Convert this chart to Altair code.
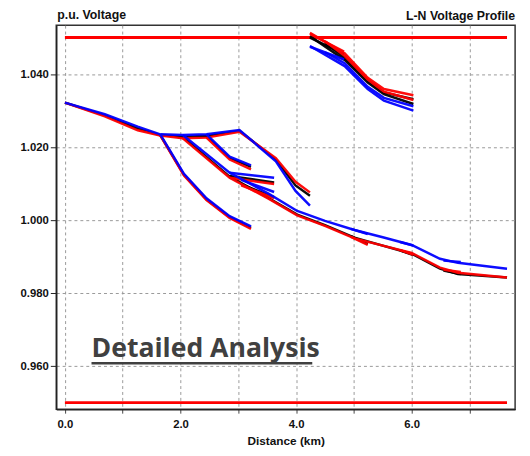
import altair as alt
import pandas as pd

# ---- data (distance km, p.u. voltage per phase) ----
trunk_x = [0.0, 0.69, 1.26, 1.65]
trunk_red = [1.0322, 1.0284, 1.0246, 1.0232]
trunk_black = [1.0322, 1.0287, 1.0251, 1.0233]
trunk_blue = [1.0322, 1.0290, 1.0256, 1.0235]

upper_x = [1.65, 2.04, 2.45, 3.02, 3.65, 3.99, 4.24]
upper_red = [1.0232, 1.0224, 1.0226, 1.0242, 1.0170, 1.0105, 1.0076]
upper_black = [1.0233, 1.0228, 1.0231, 1.0245, 1.0166, 1.0095, 1.0067]
upper_blue = [1.0235, 1.0233, 1.0235, 1.0247, 1.0161, 1.0080, 1.0040]

steep_x = [1.65, 2.06, 2.45, 2.85, 3.22]
steep_red = [1.0232, 1.0122, 1.0055, 1.0006, 0.9976]
steep_black = [1.0233, 1.0124, 1.0057, 1.0008, 0.9979]
steep_blue = [1.0235, 1.0127, 1.0060, 1.0011, 0.9983]

b4_x = [2.45, 2.85, 3.22]
b4_red = [1.0226, 1.0166, 1.0139]
b4_black = [1.0231, 1.0170, 1.0146]
b4_blue = [1.0235, 1.0174, 1.0150]

main_x = [2.04, 2.85, 3.53, 4.02, 4.5, 5.01, 5.5, 6.0, 6.49, 6.8, 7.65]
main_red = [1.0224, 1.0116, 1.0058, 1.0013, 0.9984, 0.9950, 0.9930, 0.9910, 0.9870, 0.9856, 0.9843]
main_black = [1.0228, 1.0119, 1.0060, 1.0015, 0.9986, 0.9952, 0.9930, 0.9908, 0.9867, 0.9852, 0.9843]
main_blue = [1.0233, 1.0130, 1.0072, 1.0025, 0.9998, 0.9973, 0.9953, 0.9932, 0.9894, 0.9883, 0.9867]

s1_x = [2.85, 3.62]
s1_red = [1.0116, 1.0099]
s1_black = [1.0121, 1.0103]
s1_blue = [1.0130, 1.0116]

s2_x = [3.05, 3.62]
s2_red = [1.0095, 1.0060]
s2_black = [1.0098, 1.0063]
s2_blue = [1.0110, 1.0077]

l1_x = [4.95, 5.24]
l1_red = [0.9954, 0.9932]
l1_black = [0.9956, 0.9934]
l1_blue = [0.9976, 0.9962]

l2_x = [5.8, 6.03]
l2_red = [0.9918, 0.9905]
l2_black = [0.9917, 0.9904]
l2_blue = [0.9940, 0.9930]

l3_x = [6.55, 6.85]
l3_red = [0.9864, 0.9858]
l3_black = [0.9862, 0.9852]
l3_blue = [0.9889, 0.9885]

ur1_x = [4.24, 4.84, 5.24, 5.52, 6.03]
ur1_red = [1.0513, 1.0457, 1.0390, 1.0359, 1.0342]
ur1_black = [1.0504, 1.0439, 1.0377, 1.0345, 1.0318]
ur1_blue = [1.0477, 1.0422, 1.0359, 1.0327, 1.0300]

ur2_x = [4.5, 4.84, 5.24, 5.52, 6.03]
ur2_red = [1.0490, 1.0450, 1.0385, 1.0352, 1.0329]
ur2_black = [1.0485, 1.0445, 1.0382, 1.0350, 1.0331]
ur2_blue = [1.0460, 1.0430, 1.0365, 1.0335, 1.0312]

ur3_x = [4.24, 4.83]
ur3_red = [1.0510, 1.0462]
ur3_black = [1.0500, 1.0455]
ur3_blue = [1.0475, 1.0440]

limit_x = [0.0, 7.65]
limit_high = 1.05
limit_low = 0.95

x_ticks = [i * 0.5 for i in range(16)]
y_ticks = [0.96, 0.98, 1.00, 1.02, 1.04]

branches = [
    ("trunk", trunk_x, trunk_red, trunk_black, trunk_blue),
    ("upper", upper_x, upper_red, upper_black, upper_blue),
    ("steep", steep_x, steep_red, steep_black, steep_blue),
    ("b4", b4_x, b4_red, b4_black, b4_blue),
    ("main", main_x, main_red, main_black, main_blue),
    ("s1", s1_x, s1_red, s1_black, s1_blue),
    ("s2", s2_x, s2_red, s2_black, s2_blue),
    ("l1", l1_x, l1_red, l1_black, l1_blue),
    ("l2", l2_x, l2_red, l2_black, l2_blue),
    ("l3", l3_x, l3_red, l3_black, l3_blue),
    ("ur1", ur1_x, ur1_red, ur1_black, ur1_blue),
    ("ur2", ur2_x, ur2_red, ur2_black, ur2_blue),
    ("ur3", ur3_x, ur3_red, ur3_black, ur3_blue),
]

rows = []
for name, xs, reds, blacks, blues in branches:
    for phase, vs in (("black", blacks), ("red", reds), ("blue", blues)):
        for i, (x, v) in enumerate(zip(xs, vs)):
            rows.append({"branch": name, "phase": phase, "i": i, "x": x, "v": v})
df = pd.DataFrame(rows)

lim_rows = []
for name, val in (("high", limit_high), ("low", limit_low)):
    for i, x in enumerate(limit_x):
        lim_rows.append({"branch": name, "i": i, "x": x, "v": val})
lim_df = pd.DataFrame(lim_rows)

FONT = "Liberation Sans"

x_enc = alt.X(
    "x:Q",
    scale=alt.Scale(domain=[-0.15, 7.79], nice=False, zero=False),
    axis=alt.Axis(
        values=x_ticks,
        labelExpr="datum.value % 2 === 0 ? format(datum.value, '.1f') : ''",
        title="Distance (km)",
        grid=True,
        gridDash=[3, 3],
        gridColor="#999999",
        gridWidth=1,
        tickSize=4,
        tickColor="#444444",
        domainColor="#222222",
        domainWidth=1.5,
        labelFont=FONT,
        labelFontSize=11.5,
        labelFontWeight="bold",
        labelColor="#111111",
        labelPadding=6,
        titleFont=FONT,
        titleFontSize=12,
        titleFontWeight="bold",
        titleColor="#111111",
        titlePadding=5,
    ),
)
y_enc = alt.Y(
    "v:Q",
    scale=alt.Scale(domain=[0.9482, 1.0534], nice=False, zero=False),
    axis=alt.Axis(
        values=y_ticks,
        format=".3f",
        title=None,
        grid=True,
        gridDash=[3, 3],
        gridColor="#999999",
        gridWidth=1,
        tickSize=6,
        tickColor="#222222",
        domainColor="#222222",
        domainWidth=1.5,
        labelFont=FONT,
        labelFontSize=11.5,
        labelFontWeight="bold",
        labelColor="#111111",
        labelPadding=2,
    ),
)

limits = alt.Chart(lim_df).mark_line(color="#ff0000", strokeWidth=3).encode(
    x=x_enc, y=y_enc, detail="branch:N", order="i:Q"
)

colors = {"black": "#000000", "red": "#ff0000", "blue": "#0000ff"}
phase_layers = []
for phase in ("black", "red", "blue"):
    phase_layers.append(
        alt.Chart(df)
        .transform_filter(alt.datum.phase == phase)
        .mark_line(color=colors[phase], strokeWidth=2.5, opacity=0.95)
        .encode(x=x_enc, y=y_enc, detail="branch:N", order="i:Q")
    )

ann_df = pd.DataFrame({"x": [0.46], "v": [0.9624], "t": ["Detailed Analysis"]})
annotation = alt.Chart(ann_df).mark_text(
    align="left", baseline="alphabetic", font="Open Sans", fontSize=27,
    fontWeight="bold", color="#404040"
).encode(x="x:Q", y="v:Q", text="t:N")

ul_df = pd.DataFrame({"x": [0.46], "x2": [4.28], "v": [0.9608]})
underline = alt.Chart(ul_df).mark_rule(color="#404040", strokeWidth=2.5).encode(
    x="x:Q", x2="x2:Q", y="v:Q"
)

left_df = pd.DataFrame({"t": ["p.u. Voltage"]})
left_title = alt.Chart(left_df).mark_text(
    align="left", baseline="alphabetic", font=FONT, fontSize=12.5,
    fontWeight="bold", color="#111111"
).encode(text="t:N", x=alt.value(1), y=alt.value(-6))

right_df = pd.DataFrame({"t": ["L-N Voltage Profile"]})
right_title = alt.Chart(right_df).mark_text(
    align="right", baseline="alphabetic", font=FONT, fontSize=12.5,
    fontWeight="bold", color="#111111"
).encode(text="t:N", x=alt.value(466), y=alt.value(-5))

chart = (
    alt.layer(limits, *phase_layers, annotation, underline, left_title, right_title)
    .properties(
        width=466,
        height=390,
        padding={"left": 49, "top": 14, "right": 7, "bottom": 40},
        autosize=alt.AutoSizeParams(type="none"),
        background="white",
    )
    .configure_view(stroke="#333333", strokeWidth=1.5)
)

chart.save("out.html", embed_options={"renderer": "svg", "actions": False})
